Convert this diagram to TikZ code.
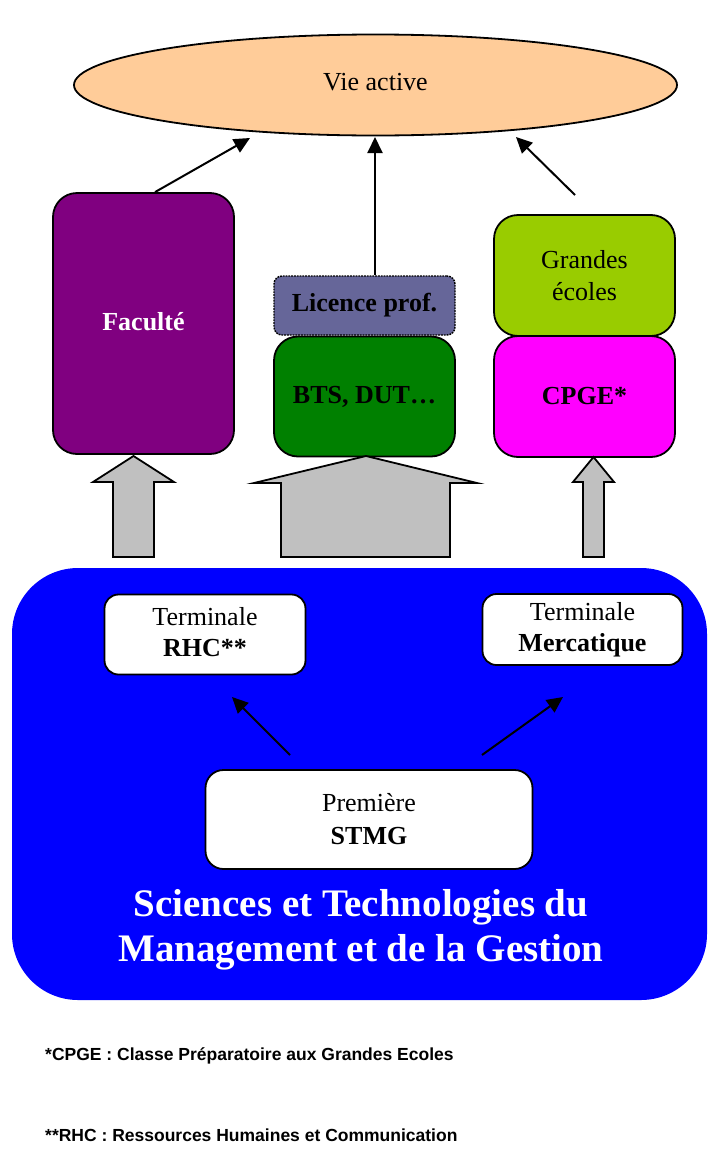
\documentclass[tikz,border=0pt]{standalone}
\usepackage{fontspec}
\setmainfont{Liberation Serif}
\newfontfamily\notefont{Liberation Sans}
\usetikzlibrary{shapes.geometric,arrows.meta}

\definecolor{peach}{HTML}{FFCC99}
\definecolor{facpurple}{HTML}{800080}
\definecolor{licblue}{HTML}{666699}
\definecolor{btsgreen}{HTML}{008000}
\definecolor{gelime}{HTML}{99CC00}
\definecolor{cpgepink}{HTML}{FF00FF}
\definecolor{bigarrow}{HTML}{C0C0C0}
\definecolor{stmgblue}{HTML}{0000FF}

\tikzset{
  big/.style={font=\fontsize{26}{31}\selectfont},
  cursus/.style={big, draw, line width=1.8pt, rounded corners=24pt,
    minimum width=181pt, align=center},
  classe/.style={big, draw, fill=white, line width=1.8pt, rounded corners=14pt,
    align=center, inner sep=0pt},
  blockarrow/.style={fill=bigarrow, draw, line width=1.8pt, line join=miter},
  fleche/.style={->, line width=2pt},
  note/.style={anchor=west, inner sep=0pt, font=\notefont\bfseries\fontsize{17.5}{21}\selectfont}
}

\begin{document}
\begin{tikzpicture}[x=1pt, y=-1pt, >={Triangle[length=16pt,width=15pt]}]
  \useasboundingbox (0,0) rectangle (721,1170);

  % vie active
  \node[big, ellipse, draw, line width=1.8pt, fill=peach,
    minimum width=603pt, minimum height=101pt] (vie) at (375.5,85) {\raisebox{7pt}{Vie active}};

  % poursuites d'etudes
  \node[cursus, fill=facpurple, text=white, minimum height=261pt] (fac) at (143.5,323.5) {\raisebox{5pt}{\bfseries Facult\'e}};
  \node[cursus, fill=licblue, densely dotted, line width=1.4pt, rounded corners=8pt, minimum height=59pt] (lic) at (364.5,305.5) {\bfseries Licence prof.};
  \node[cursus, fill=btsgreen, minimum height=120pt] (bts) at (364.5,396.5) {\bfseries BTS, DUT\ldots};
  \node[cursus, fill=gelime, minimum height=121pt] (ge) at (584.5,275.5) {Grandes\\[1pt]\'ecoles};
  \node[cursus, fill=cpgepink, minimum height=121pt] (cpge) at (584.5,396.5) {\bfseries CPGE*};

  \coordinate (t1) at (250,138);
  \coordinate (t2) at (375,137);
  \coordinate (t3) at (516,137);
  \coordinate (s3) at (575,195);
  \draw[fleche] ([xshift=11.5pt]fac.north) -- (t1);
  \draw[fleche] (lic.north -| t2) -- (t2);
  \draw[fleche] (s3) -- (t3);

  % grosses fleches
  \draw[blockarrow] (113,557) -- (113,482) -- (93,482) -- (133.5,456) -- (174,482) -- (154,482) -- (154,557) -- cycle;
  \draw[blockarrow] (281,557) -- (281,483) -- (254,483) -- (366,456) -- (477,483) -- (450,483) -- (450,557) -- cycle;
  \draw[blockarrow] (583,557) -- (583,482) -- (573,482) -- (593.5,457) -- (614,482) -- (604,482) -- (604,557) -- cycle;

  % serie STMG
  \fill[stmgblue, rounded corners=66pt] (12,568) rectangle (707,1000);

  \node[classe, minimum width=201pt, minimum height=80pt] (rhc) at (205,634.5)
    {\raisebox{5pt}{\begin{tabular}{@{}c@{}}Terminale\\\bfseries RHC**\end{tabular}}};
  \node[classe, minimum width=200pt, minimum height=71pt] (merc) at (582.5,629.5) {Terminale\\\bfseries Mercatique};
  \node[classe, minimum width=327pt, minimum height=99pt, rounded corners=18pt] (prem) at (369,819.5) {Premi\`ere\\[2pt]\bfseries STMG};

  \coordinate (p1) at (290,755);
  \coordinate (r1) at (232,697);
  \coordinate (p2) at (482,755);
  \coordinate (r2) at (563,697);
  \draw[fleche] (p1) -- (r1);
  \draw[fleche] (p2) -- (r2);

  \node[text=white, align=center, inner sep=0pt, font=\bfseries\fontsize{39}{45}\selectfont] (titre) at (361,930)
    {Sciences et Technologies du\\Management et de la Gestion};

  % notes
  \node[note] (n1) at (45,1056) {*CPGE : Classe Pr\'eparatoire aux Grandes Ecoles};
  \node[note] (n2) at (45,1135) {**RHC : Ressources Humaines et Communication};
\end{tikzpicture}
\end{document}
